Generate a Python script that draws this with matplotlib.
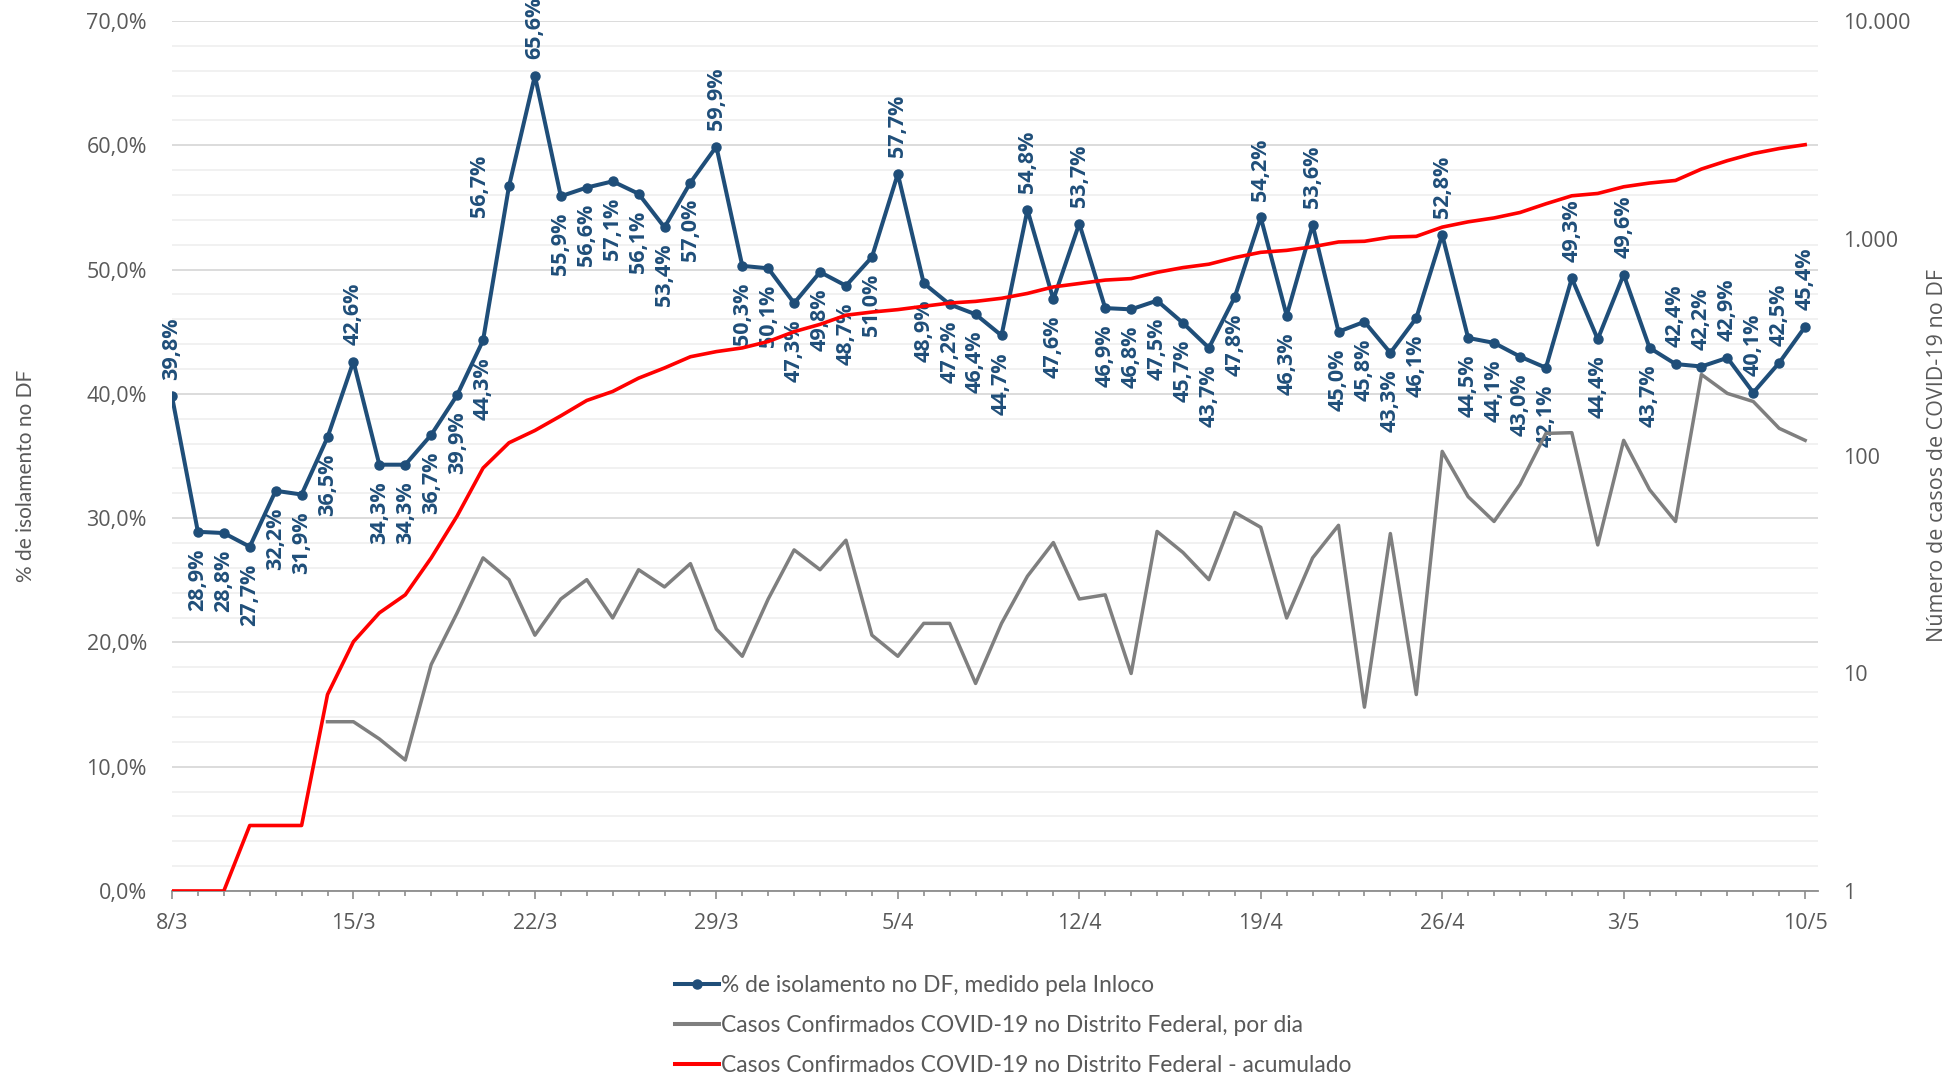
import matplotlib
matplotlib.use("Agg")
import matplotlib.pyplot as plt
from matplotlib.lines import Line2D
from matplotlib.ticker import MultipleLocator, FixedLocator, NullLocator, FuncFormatter
import numpy as np
import pandas as pd

# dias de 8/3 a 10/5
dias = pd.date_range("2020-03-08", "2020-05-10", freq="D")

# % de isolamento no DF (Inloco)
isolamento = [
    39.8, 28.9, 28.8, 27.7, 32.2, 31.9, 36.5, 42.6, 34.3, 34.3, 36.7, 39.9,
    44.3, 56.7, 65.6, 55.9, 56.6, 57.1, 56.1, 53.4, 57.0, 59.9, 50.3, 50.1,
    47.3, 49.8, 48.7, 51.0, 57.7, 48.9, 47.2, 46.4, 44.7, 54.8, 47.6, 53.7,
    46.9, 46.8, 47.5, 45.7, 43.7, 47.8, 54.2, 46.3, 53.6, 45.0, 45.8, 43.3,
    46.1, 52.8, 44.5, 44.1, 43.0, 42.1, 49.3, 44.4, 49.6, 43.7, 42.4, 42.2,
    42.9, 40.1, 42.5, 45.4,
]

# casos confirmados por dia (sem dado antes de 14/3)
casos_dia = [
    None, None, None, None, None, None, 6, 6, 5, 4, 11, 19,
    34, 27, 15, 22, 27, 18, 30, 25, 32, 16, 12, 22,
    37, 30, 41, 15, 12, 17, 17, 9, 17, 28, 40, 22,
    23, 10, 45, 36, 27, 55, 47, 18, 34, 48, 7, 44,
    8, 105, 65, 50, 74, 127, 128, 39, 118, 70, 50, 237,
    194, 178, 134, 118,
]

# casos confirmados acumulados
casos_acumulados = [
    1, 1, 1, 2, 2, 2, 8, 14, 19, 23, 34, 53,
    88, 115, 131, 153, 180, 198, 228, 254, 286, 302, 314, 336,
    373, 403, 444, 459, 471, 488, 505, 514, 531, 559, 599, 621,
    644, 654, 699, 735, 762, 817, 864, 882, 916, 964, 971, 1015,
    1023, 1128, 1193, 1243, 1317, 1444, 1572, 1611, 1729, 1799, 1849, 2086,
    2280, 2458, 2592, 2700,
]

# posicao dos rotulos de dados
rotulos_acima = {0, 7, 14, 21, 28, 33, 35, 42, 44, 49, 54, 56, 58, 59, 60, 61, 62, 63}
rotulos_esquerda = {13}

AZUL = "#1F4E79"
CINZA = "#7F7F7F"
VERMELHO = "#FF0000"
TEXTO = "#595959"
EIXO = "#8C8C8C"


def pct(v, _=None):
    return f"{v:.1f}%".replace(".", ",")


def milhar(v, _=None):
    return f"{int(round(v)):,}".replace(",", ".")


x = np.arange(len(dias))
diario = np.array([np.nan if v is None else v for v in casos_dia], dtype=float)

fig = plt.figure(figsize=(19.52, 10.78), dpi=100)
ax = fig.add_axes([0.0881, 0.1735, 0.8433, 0.8070])

ax.set_xlim(0, 63.5)
ax.set_ylim(0, 70)
ax.yaxis.set_major_locator(MultipleLocator(10))
ax.yaxis.set_minor_locator(MultipleLocator(2))
ax.yaxis.set_major_formatter(FuncFormatter(pct))
ax.grid(which="major", axis="y", color="#D9D9D9", lw=1.3, zorder=0)
ax.grid(which="minor", axis="y", color="#EEEEEE", lw=1.1, zorder=0)
ax.set_axisbelow(True)

ax.xaxis.set_major_locator(FixedLocator(x[::7]))
ax.xaxis.set_minor_locator(FixedLocator(x))
ax.set_xticklabels([f"{d.day}/{d.month}" for d in dias[::7]])

ax.tick_params(axis="y", which="both", length=0, pad=18, labelsize=15.5,
               labelcolor=TEXTO)
ax.tick_params(axis="x", which="major", length=6, width=1.2, color=EIXO,
               pad=10, labelsize=15.5, labelcolor=TEXTO)
ax.tick_params(axis="x", which="minor", length=3.6, width=1.2, color=EIXO)
for s in ["left", "right", "top"]:
    ax.spines[s].set_visible(False)
ax.spines["bottom"].set_color(EIXO)
ax.spines["bottom"].set_linewidth(1.3)

for lab in ax.get_yticklabels() + ax.get_xticklabels():
    lab.set_family("Open Sans")

ax.plot(x, isolamento, color=AZUL, lw=2.9, marker="o", ms=6.5, zorder=3)

for i, v in enumerate(isolamento):
    if i in rotulos_esquerda:
        off, ha, va = (-21, 0), "center", "center"
    elif i in rotulos_acima:
        off, ha, va = (0, 12), "center", "bottom"
    else:
        off, ha, va = (0, -12), "center", "top"
    ax.annotate(pct(v), (x[i], v), xytext=off, textcoords="offset points",
                rotation=90, ha=ha, va=va, color=AZUL, fontsize=15.5,
                fontweight="bold", family="Open Sans", zorder=4)

ax.set_ylabel("% de isolamento no DF", fontsize=15, color=TEXTO, family="Lato")
ax.yaxis.set_label_coords(-0.0826, 0.477)

ax2 = ax.twinx()
ax2.set_yscale("log")
ax2.set_ylim(1, 10000)
ax2.yaxis.set_major_locator(FixedLocator([1, 10, 100, 1000, 10000]))
ax2.yaxis.set_minor_locator(NullLocator())
ax2.yaxis.set_major_formatter(FuncFormatter(milhar))
ax2.tick_params(axis="y", which="both", length=0, pad=18, labelsize=15.5,
                labelcolor=TEXTO)
for lab in ax2.get_yticklabels():
    lab.set_family("Open Sans")
for s in ax2.spines.values():
    s.set_visible(False)

ax2.plot(x, diario, color=CINZA, lw=2.5, zorder=3)
ax2.plot(x, casos_acumulados, color=VERMELHO, lw=2.6, zorder=4)

ax2.set_ylabel("Número de casos de COVID-19 no DF", fontsize=15.5, color=TEXTO,
               family="Open Sans", rotation=90)
ax2.yaxis.set_label_coords(1.0663, 0.5)

handles = [
    Line2D([], [], color=AZUL, lw=2.9, marker="o", ms=6.5),
    Line2D([], [], color=CINZA, lw=2.9),
    Line2D([], [], color=VERMELHO, lw=2.9),
]
labels = [
    "% de isolamento no DF, medido pela Inloco",
    "Casos Confirmados COVID-19 no Distrito Federal, por dia",
    "Casos Confirmados COVID-19 no Distrito Federal - acumulado",
]
fig.legend(handles, labels, loc="upper left", bbox_to_anchor=(0.346, 0.096),
           frameon=False, handlelength=1.9, handletextpad=0.1,
           labelspacing=0.84, borderpad=0, borderaxespad=0, labelcolor=TEXTO,
           prop={"family": "Lato", "size": 16.4})

fig.savefig("out.png", dpi=100)
